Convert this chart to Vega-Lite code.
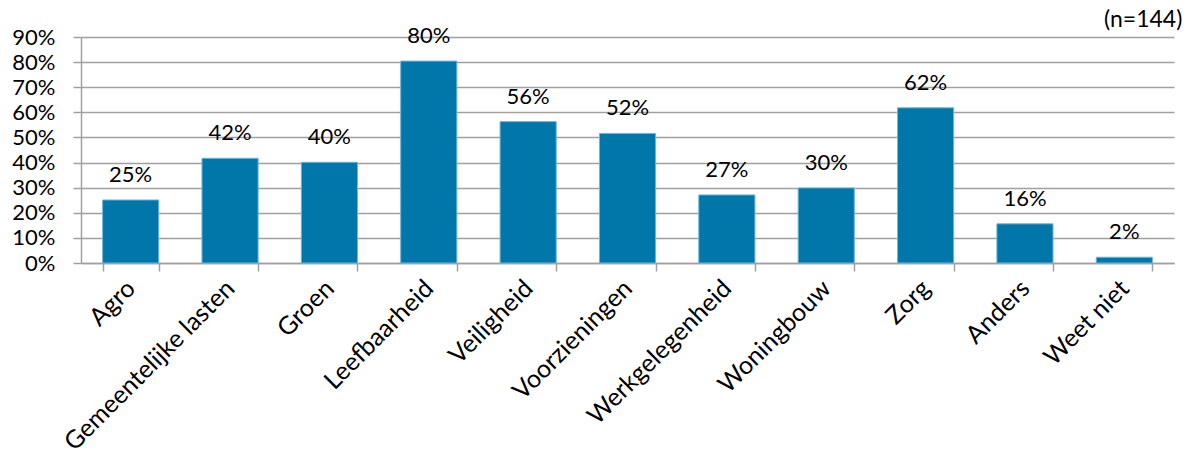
{
  "$schema": "https://vega.github.io/schema/vega-lite/v6.json",
  "width": 1093,
  "height": 226,
  "autosize": "none",
  "padding": {"left": 81, "top": 37, "right": 17, "bottom": 196},
  "background": "white",
  "config": {
    "view": {"stroke": null},
    "font": "Lato",
    "axis": {"labelFont": "Lato", "labelColor": "#000000"}
  },
  "datasets": {
    "antwoorden": [
      {"categorie": "Agro", "aandeel": 0.251},
      {"categorie": "Gemeentelijke lasten", "aandeel": 0.417},
      {"categorie": "Groen", "aandeel": 0.401},
      {"categorie": "Leefbaarheid", "aandeel": 0.804},
      {"categorie": "Veiligheid", "aandeel": 0.563},
      {"categorie": "Voorzieningen", "aandeel": 0.516},
      {"categorie": "Werkgelegenheid", "aandeel": 0.271},
      {"categorie": "Woningbouw", "aandeel": 0.299},
      {"categorie": "Zorg", "aandeel": 0.618},
      {"categorie": "Anders", "aandeel": 0.156},
      {"categorie": "Weet niet", "aandeel": 0.023}
    ],
    "noot": [
      {"categorie": "Weet niet", "aandeel": 0.9, "tekst": "(n=144)"}
    ]
  },
  "data": {"name": "antwoorden"},
  "encoding": {
    "x": {
      "field": "categorie",
      "type": "nominal",
      "sort": null,
      "title": null,
      "scale": {"paddingInner": 0.435, "paddingOuter": 0.2175},
      "axis": {
        "labelAngle": -45,
        "labelAlign": "right",
        "labelBaseline": "middle",
        "labelFontSize": 25,
        "labelPadding": 13,
        "labelLimit": 400,
        "tickBand": "extent",
        "tickSize": 8,
        "tickColor": "#A0A0A0",
        "tickWidth": 1.5,
        "domainColor": "#A0A0A0",
        "domainWidth": 1.5,
        "labelOverlap": false
      }
    },
    "y": {
      "field": "aandeel",
      "type": "quantitative",
      "title": null,
      "scale": {"domain": [0, 0.9], "nice": false},
      "axis": {
        "values": [0, 0.1, 0.2, 0.3, 0.4, 0.5, 0.6, 0.7, 0.8, 0.9],
        "format": ".0%",
        "labelFontSize": 22,
        "labelPadding": 18,
        "labelAlign": "right",
        "labelBaseline": "middle",
        "tickSize": 8,
        "tickColor": "#A0A0A0",
        "tickWidth": 1.5,
        "domainColor": "#A0A0A0",
        "domainWidth": 1.5,
        "grid": true,
        "gridColor": "#A0A0A0",
        "gridWidth": 1.5,
        "labelOverlap": false
      }
    }
  },
  "layer": [
    {
      "mark": {"type": "bar", "color": "#0076A9", "stroke": "#6FB6DA", "strokeWidth": 1}
    },
    {
      "mark": {"type": "text", "dy": -18, "baseline": "alphabetic", "fontSize": 22, "font": "Lato", "color": "#000000"},
      "encoding": {"text": {"field": "aandeel", "type": "quantitative", "format": ".0%"}}
    },
    {
      "data": {"name": "noot"},
      "mark": {"type": "text", "align": "right", "baseline": "alphabetic", "dx": 58, "dy": -10, "fontSize": 23, "font": "Lato", "color": "#000000"},
      "encoding": {"text": {"field": "tekst", "type": "nominal"}}
    }
  ]
}
